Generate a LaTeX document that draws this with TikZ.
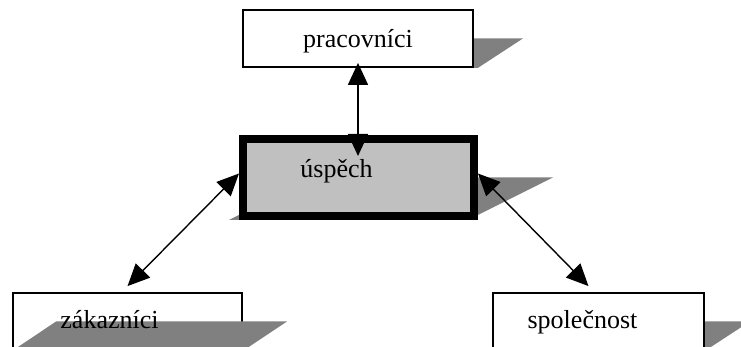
\documentclass[tikz,border=0pt]{standalone}
\usepackage{fontspec}
\setmainfont{Liberation Serif}
\usepackage{tikz}
\usetikzlibrary{arrows.meta,calc,backgrounds}
\definecolor{shadowgray}{RGB}{128, 128, 128}
\definecolor{fillgray}{RGB}{192, 192, 192}

% perspective shadow: node, shift of bottom edge, shift of top edge
\newcommand{\dropshadow}[3]{%
  \fill[shadowgray] ($(#1.south west)+(#2,0)$) -- ($(#1.south east)+(#2,0)$)
    -- ($(#1.east)+(#3,0)$) -- ($(#1.west)+(#3,0)$) -- cycle;}

\begin{document}
\begin{tikzpicture}[
    x=0.5pt, y=-0.5pt,
    every node/.style={font=\fontsize{13pt}{15.6pt}\selectfont},
    box/.style={draw=black, line width=0.9pt, fill=white, inner sep=0pt,
        minimum height=28.5pt},
    mainbox/.style={draw=black, line width=4pt, fill=fillgray, inner sep=0pt,
        minimum width=115.5pt, minimum height=38.5pt},
    link/.style={{Triangle[length=11pt,width=10pt]}-{Triangle[length=11pt,width=10pt]},
        line width=0.7pt, draw=black}
]
\useasboundingbox (0,0) rectangle (741,347);

\node[box, minimum width=115pt] (prac) at (358,38.5) {};
\node[mainbox] (uspech) at (358.5,177.5) {};
\node[box, minimum width=105.5pt] (spol) at (598.5,321.5) {};
\node[box, minimum width=114.5pt] (zak) at (127.5,321.5) {};

% shadows behind the boxes
\begin{scope}[on background layer]
\dropshadow{prac}{4}{49}
\dropshadow{uspech}{-10}{75}
\dropshadow{spol}{0}{45}
\end{scope}
% customers box: its shadow lies over it
\dropshadow{zak}{0}{44}

% labels
\node[anchor=base] (pracText) at (358,47.5) {pracovníci};
\node[anchor=base] (uspechText) at (336.5,178) {úspěch};
\node[anchor=base] (zakText) at (109.5,329) {zákazníci};
\node[anchor=base] (spolText) at (582.5,329) {společnost};

% links
\draw[link, shorten <=-2.5pt, shorten >=-10.5pt] (prac.south) -- (prac.south |- uspech.north);
\draw[link] ($(zak.north)+(0,-6)$) -- ($(uspech.west)+(0,-4)$);
\draw[link] ($(uspech.east)+(0,-4)$) -- ($(spol.north)+(-10,-6)$);
\end{tikzpicture}
\end{document}
